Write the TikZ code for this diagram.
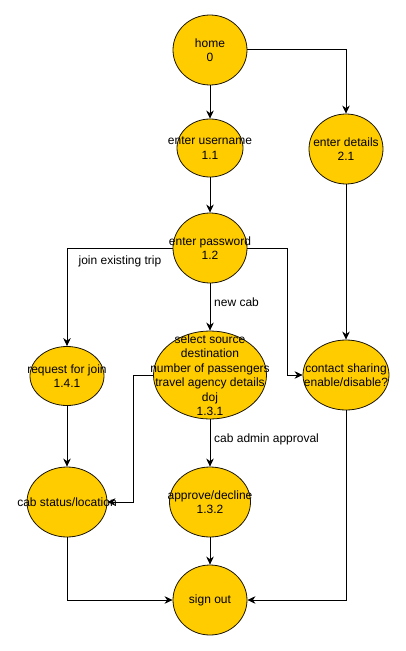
\documentclass[tikz,border=0pt]{standalone}
\usepackage{fontspec}
\setmainfont{Liberation Sans}
\usetikzlibrary{shapes.geometric,arrows.meta}
\definecolor{fillY}{HTML}{FFCC00}
\definecolor{strokeD}{HTML}{1A1400}
\tikzset{
  state/.style={ellipse, draw=strokeD, fill=fillY, line width=0.8bp, inner sep=0pt},
  txt/.style={align=center, font=\fontsize{12bp}{14.5bp}\selectfont, text=black, inner sep=0pt},
  flow/.style={draw=black, line width=1bp, -{Stealth[length=8bp,width=7.5bp,inset=2.5bp]}},
  lbl/.style={font=\fontsize{12bp}{14.5bp}\selectfont, inner sep=0pt}
}
\begin{document}
\begin{tikzpicture}[x=1bp,y=-1bp]
\useasboundingbox (0,0) rectangle (405,651);
\node[state, minimum width=74bp, minimum height=70bp] (home) at (210,50) {};
\node[state, minimum width=66bp, minimum height=58bp] (user) at (210,148) {};
\node[state, minimum width=74bp, minimum height=70bp] (det) at (346,149) {};
\node[state, minimum width=74bp, minimum height=70bp] (pwd) at (210,248) {};
\node[state, minimum width=74bp, minimum height=59bp] (req) at (67,376) {};
\node[state, minimum width=113bp, minimum height=88bp] (sel) at (210,375) {};
\node[state, minimum width=86bp, minimum height=70bp] (con) at (346,375) {};
\node[state, minimum width=80bp, minimum height=70bp] (cab) at (67,502) {};
\node[state, minimum width=81bp, minimum height=70bp] (app) at (210,502) {};
\node[state, minimum width=74bp, minimum height=70bp] (out) at (210,600) {};

\coordinate (pr) at (287,248);
\coordinate (sl) at (133,375);

\draw[flow] (home) -- (user);
\draw[flow] (home.east) -| (det.north);
\draw[flow] (user) -- (pwd);
\draw[flow] (pwd.west) -| (req.north);
\draw[flow] (pwd.east) -- (pr) |- (con.west);
\draw[flow] (pwd) -- (sel);
\draw[flow] (det) -- (con);
\draw[flow] (req) -- (cab);
\draw[flow] (sel.west) -- (sl) |- (cab.east);
\draw[flow] (sel) -- (app);
\draw[flow] (app) -- (out);
\draw[flow] (cab.south) |- (out.west);
\draw[flow] (con.south) |- (out.east);

\node[txt] (home-t) at (home) {home\\0};
\node[txt] (user-t) at (user) {enter username\\1.1};
\node[txt] (det-t) at (det) {enter details\\2.1};
\node[txt] (pwd-t) at (pwd) {enter password\\1.2};
\node[txt] (req-t) at (req) {request for join\\1.4.1};
\node[txt] (sel-t) at (sel) {select source\\destination\\number of passengers\\travel agency details\\doj\\1.3.1};
\node[txt] (con-t) at (con) {contact sharing\\enable/disable?};
\node[txt] (cab-t) at (cab) {cab status/location};
\node[txt] (app-t) at (app) {approve/decline\\1.3.2};
\node[txt] (out-t) at (out) {sign out};

\node[lbl] (l1) at (120,261) {join existing trip};
\node[lbl, anchor=west] (l2) at (214,302) {new cab};
\node[lbl, anchor=west] (l3) at (214,439) {cab admin approval};
\end{tikzpicture}
\end{document}
